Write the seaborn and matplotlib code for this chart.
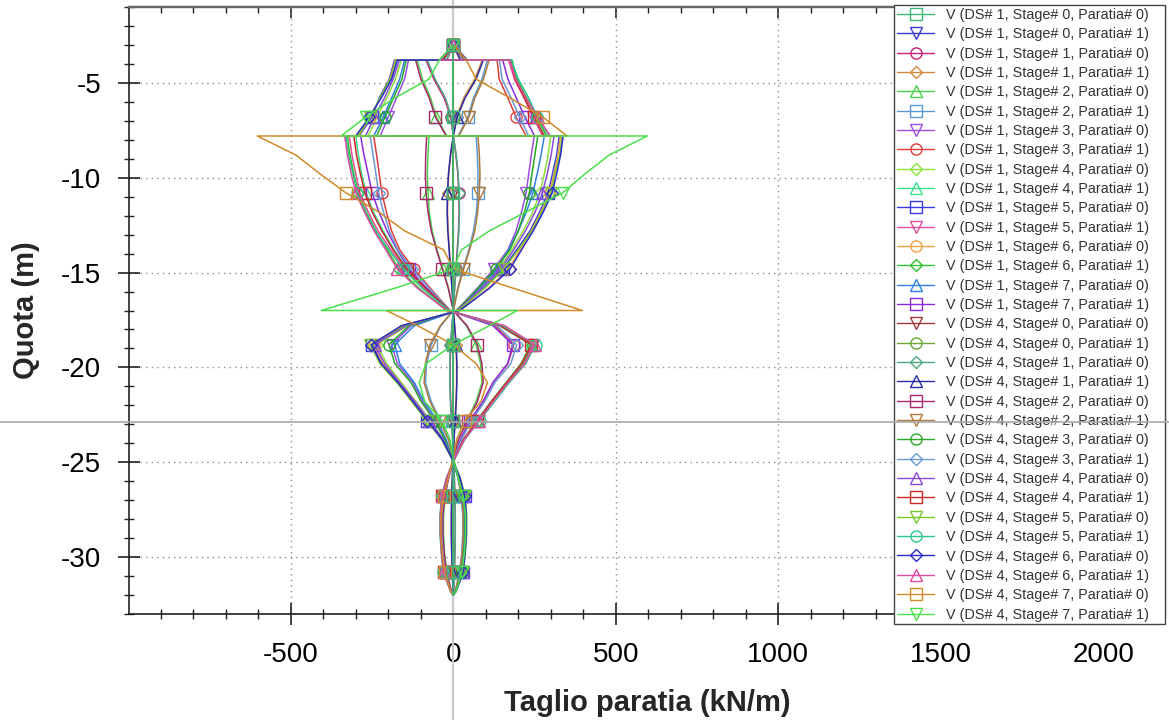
import numpy as np
import pandas as pd
import matplotlib
matplotlib.use("Agg")
import matplotlib.pyplot as plt
from matplotlib.lines import Line2D
from matplotlib.ticker import MultipleLocator
import seaborn as sns

# ---------------- data ----------------
# depth nodes along the wall (m); repeated depths are the jumps at the supports
DEPTH = [-3.0, -3.8, -3.8, -4.8, -5.8, -6.8, -7.8, -7.8, -8.8, -9.8,
         -10.8, -11.8, -12.8, -13.8, -14.8, -15.8, -17.0, -17.0, -17.8, -18.8,
         -19.8, -20.8, -21.8, -22.8, -23.8, -24.8, -25.8, -26.8, -27.8, -28.8,
         -29.8, -30.8, -31.8, -32.0]
MARKER_DEPTHS = [-3.0, -6.8, -10.8, -14.8, -18.8, -22.8, -26.8, -30.8]

# shear V (kN/m) at each depth node
V_DS1_S0_P0 = [0, 0, 0, 0, 0, 0, 0, 0, 0, 0, 0, 0, 0, 0, 0, 0, 0, 0, 0, 0,
               0, 0, 0, 0, 0, 0, 0, 0, 0, 0, 0, 0, 0, 0]
V_DS1_S0_P1 = [0, 0, 0, 0, 0, 0, 0, 0, 0, 0, 0, 0, 0, 0, 0, 0, 0, 0, 0, 0,
               0, 0, 0, 0, 0, 0, 0, 0, 0, 0, 0, 0, 0, 0]
V_DS1_S1_P0 = [0, -20, -84, -60, -28, -8, 0, 0, 8, 14,
               17, 18, 16, 12, 8, 4, 0, 0, -4, -8,
               -10, -10, -8, -5, -2, 0, 3, 5, 6, 6,
               5, 3, 1, 0]
V_DS1_S1_P1 = [0, 20, 89, 66, 32, 10, 0, 0, -8, -14,
               -17, -18, -16, -12, -8, -4, 0, 0, 4, 8,
               10, 10, 8, 5, 2, 0, -3, -5, -6, -6,
               -5, -3, -1, 0]
V_DS1_S2_P0 = [0, -30, -111, -95, -70, -52, -20, -75, -78, -80,
               -78, -74, -65, -50, -32, -15, 0, 0, 40, 70,
               84, 88, 70, 42, 15, 0, -15, -25, -30, -30,
               -27, -20, -6, 0]
V_DS1_S2_P1 = [0, 30, 105, 88, 62, 45, 15, 70, 74, 76,
               75, 71, 62, 48, 30, 14, 0, 0, -38, -68,
               -82, -86, -68, -40, -14, 0, 14, 24, 29, 29,
               26, 19, 6, 0]
V_DS1_S3_P0 = [0, 40, -138, -150, -175, -200, -225, 249, 240, 232,
               224, 210, 193, 168, 125, 75, 10, 10, -130, -190,
               -172, -125, -95, -55, -25, -3, 15, 30, 36, 36,
               32, 25, 8, 0]
V_DS1_S3_P1 = [0, -40, 135, 141, 168, 193, 224, -245, -236, -228,
               -220, -206, -190, -165, -122, -72, -10, -10, 128, 186,
               168, 122, 92, 53, 24, 3, -14, -29, -35, -35,
               -31, -24, -8, 0]
V_DS1_S4_P0 = [0, 35, -160, -178, -205, -235, -262, 300, 292, 280,
               266, 245, 215, 180, 140, 85, 12, 12, -140, -235,
               -205, -160, -115, -72, -30, -4, 18, 33, 38, 38,
               34, 28, 8, 0]
V_DS1_S4_P1 = [0, -35, 181, 195, 225, 255, 286, -300, -292, -282,
               -268, -246, -216, -182, -142, -86, -12, -12, 142, 238,
               208, 162, 116, 73, 31, 4, -18, -33, -38, -38,
               -34, -28, -8, 0]
V_DS1_S5_P0 = [0, 40, -181, -197, -228, -250, -290, 326, 318, 305,
               292, 266, 236, 195, 152, 95, 15, 15, -150, -250,
               -220, -170, -125, -80, -35, -5, 20, 35, 40, 40,
               36, 30, 8, 0]
V_DS1_S5_P1 = [0, -40, 170, 188, 218, 245, 275, -320, -312, -300,
               -288, -262, -232, -192, -150, -93, -15, -15, 148, 246,
               216, 167, 123, 79, 34, 5, -20, -35, -40, -40,
               -36, -30, -8, 0]
V_DS1_S6_P0 = [0, 42, -178, -195, -225, -255, -292, 330, 322, 310,
               296, 270, 240, 205, 170, 110, 20, 20, -155, -245,
               -215, -165, -120, -78, -33, -4, 19, 34, 39, 39,
               35, 29, 8, 0]
V_DS1_S6_P1 = [0, -42, 180, 196, 226, 256, 288, -326, -318, -306,
               -293, -268, -238, -203, -168, -108, -20, -20, 153, 243,
               213, 163, 119, 77, 33, 4, -19, -34, -39, -39,
               -35, -29, -8, 0]
V_DS1_S7_P0 = [0, 38, -150, -165, -190, -215, -245, 280, 270, 258,
               245, 225, 200, 170, 135, 82, 12, 12, -120, -180,
               -165, -120, -90, -50, -22, -3, 14, 28, 34, 34,
               30, 24, 7, 0]
V_DS1_S7_P1 = [0, -38, 152, 168, 194, 220, 250, -285, -275, -262,
               -250, -229, -204, -173, -137, -83, -12, -12, 122, 183,
               167, 122, 91, 51, 22, 3, -14, -28, -34, -34,
               -30, -24, -7, 0]
V_DS4_S0_P0 = [0, 0, 0, 0, 0, 0, 0, 0, 0, 0, 0, 0, 0, 0, 0, 0, 0, 0, 0, 0,
               0, 0, 0, 0, 0, 0, 0, 0, 0, 0, 0, 0, 0, 0]
V_DS4_S0_P1 = [0, 0, 0, 0, 0, 0, 0, 0, 0, 0, 0, 0, 0, 0, 0, 0, 0, 0, 0, 0,
               0, 0, 0, 0, 0, 0, 0, 0, 0, 0, 0, 0, 0, 0]
V_DS4_S1_P0 = [0, -22, -80, -56, -24, -6, 0, 0, 9, 15,
               18, 19, 17, 13, 9, 4, 0, 0, -4, -9,
               -11, -11, -9, -6, -2, 0, 3, 5, 6, 6,
               5, 3, 1, 0]
V_DS4_S1_P1 = [0, 22, 92, 70, 36, 12, 0, 0, -9, -15,
               -18, -19, -17, -13, -9, -4, 0, 0, 4, 9,
               11, 11, 9, 6, 2, 0, -3, -5, -6, -6,
               -5, -3, -1, 0]
V_DS4_S2_P0 = [0, -32, -116, -100, -74, -55, -22, -82, -85, -86,
               -84, -78, -68, -52, -34, -16, 0, 0, 42, 74,
               88, 92, 74, 44, 16, 0, -16, -26, -32, -32,
               -28, -21, -6, 0]
V_DS4_S2_P1 = [0, 32, 110, 93, 66, 48, 17, 76, 80, 82,
               80, 75, 66, 50, 32, 15, 0, 0, -40, -72,
               -86, -90, -72, -42, -15, 0, 15, 25, 31, 31,
               27, 20, 6, 0]
V_DS4_S3_P0 = [0, 42, -145, -158, -184, -210, -236, 260, 251, 242,
               234, 219, 200, 174, 130, 78, 10, 10, -136, -198,
               -180, -130, -99, -58, -26, -3, 16, 31, 37, 37,
               33, 26, 8, 0]
V_DS4_S3_P1 = [0, -42, 142, 150, 178, 204, 232, -256, -247, -238,
               -230, -215, -197, -171, -127, -76, -10, -10, 134, 195,
               177, 128, 97, 56, 25, 3, -15, -30, -36, -36,
               -32, -25, -8, 0]
V_DS4_S4_P0 = [0, 37, -166, -185, -212, -243, -270, 310, 301, 289,
               274, 252, 222, 186, 145, 88, 12, 12, -145, -242,
               -211, -165, -118, -74, -31, -4, 19, 34, 39, 39,
               35, 29, 8, 0]
V_DS4_S4_P1 = [0, -37, 176, 190, 219, 249, 280, -306, -298, -286,
               -272, -250, -220, -185, -144, -87, -12, -12, 144, 240,
               210, 164, 117, 74, 31, 4, -19, -34, -39, -39,
               -35, -29, -8, 0]
V_DS4_S5_P0 = [0, 41, -176, -194, -226, -256, -294, 335, 327, 313,
               300, 273, 242, 200, 156, 98, 15, 15, -154, -256,
               -226, -174, -128, -82, -36, -5, 21, 36, 41, 41,
               37, 31, 8, 0]
V_DS4_S5_P1 = [0, -41, 178, 200, 232, 258, 296, -330, -322, -309,
               -296, -270, -240, -198, -155, -97, -15, -15, 152, 253,
               223, 172, 127, 81, 35, 5, -21, -36, -41, -41,
               -37, -31, -8, 0]
V_DS4_S6_P0 = [0, 43, -172, -190, -222, -258, -300, 338, 330, 318,
               304, 277, 246, 210, 175, 113, 20, 20, -160, -252,
               -222, -170, -124, -80, -34, -4, 20, 35, 40, 40,
               36, 30, 8, 0]
V_DS4_S6_P1 = [0, -43, 174, 192, 224, 260, 298, -334, -326, -314,
               -300, -274, -244, -208, -173, -112, -20, -20, 158, 250,
               220, 168, 123, 79, 34, 4, -20, -35, -40, -40,
               -36, -30, -8, 0]
V_DS4_S7_P0 = [0, 40, 40, 70, 175, 275, 350, -603, -485, -410,
               -330, -230, -150, -30, 0, 180, 397, -206, -110, 0,
               70, 105, 85, 35, 10, 0, -15, -30, -38, -38,
               -34, -26, -8, 0]
V_DS4_S7_P1 = [0, -43, -43, -75, -180, -270, -345, 597, 480, 405,
               336, 224, 111, 25, 0, -175, -406, 197, 111, 0,
               -84, -105, -88, -35, -10, 0, 15, 30, 38, 38,
               34, 26, 8, 0]

SERIES = [V_DS1_S0_P0, V_DS1_S0_P1, V_DS1_S1_P0, V_DS1_S1_P1,
          V_DS1_S2_P0, V_DS1_S2_P1, V_DS1_S3_P0, V_DS1_S3_P1,
          V_DS1_S4_P0, V_DS1_S4_P1, V_DS1_S5_P0, V_DS1_S5_P1,
          V_DS1_S6_P0, V_DS1_S6_P1, V_DS1_S7_P0, V_DS1_S7_P1,
          V_DS4_S0_P0, V_DS4_S0_P1, V_DS4_S1_P0, V_DS4_S1_P1,
          V_DS4_S2_P0, V_DS4_S2_P1, V_DS4_S3_P0, V_DS4_S3_P1,
          V_DS4_S4_P0, V_DS4_S4_P1, V_DS4_S5_P0, V_DS4_S5_P1,
          V_DS4_S6_P0, V_DS4_S6_P1, V_DS4_S7_P0, V_DS4_S7_P1]

LABELS = [f"V (DS# {ds}, Stage# {st}, Paratia# {p})"
          for ds in (1, 4) for st in range(8) for p in (0, 1)]

COLORS = ["#3cb878", "#3b3bd0", "#c8207a", "#d2883a", "#4cd04c", "#5b9bd5",
          "#9b4de0", "#e03c3c", "#8ee03a", "#3ce08e", "#3a3ae0", "#e0509b",
          "#f0a040", "#30c030", "#3080e0", "#8a2be2", "#a0383c", "#6aa832",
          "#4ca882", "#2a2aa8", "#a8286a", "#b07838", "#28a828", "#6a9ad0",
          "#8a4ad8", "#c82828", "#7ac82a", "#2ac88a", "#2a2ac8", "#e04aa0",
          "#d08a2a", "#4ae04a"]
MARKER_CYCLE = ["s", "v", "o", "D", "^"]

CURSOR_Z = -22.9   # horizontal cursor line
CURSOR_V = 0       # vertical cursor line

for s in SERIES:
    assert len(s) == len(DEPTH)

# ---------------- plot ----------------
sns.set_theme(style="white")
plt.rcParams["font.family"] = ["Liberation Sans", "DejaVu Sans"]
plt.rcParams["axes.unicode_minus"] = False

fig = plt.figure(figsize=(11.69, 7.2), dpi=100)
ax_l, ax_r, ax_t, ax_b = 129, 1165, 7, 614
ax = fig.add_axes([ax_l / 1169, 1 - ax_b / 720, (ax_r - ax_l) / 1169, (ax_b - ax_t) / 720])

mark_idx = [DEPTH.index(d) for d in MARKER_DEPTHS]
msizes = {"s": 8, "v": 8.5, "o": 8, "D": 6.5, "^": 8.5}

handles = []
order = list(range(1, len(SERIES))) + [0]
for i in order:
    vals = SERIES[i]
    col = COLORS[i]
    mk = MARKER_CYCLE[i % 5]
    df = pd.DataFrame({"V": vals, "z": DEPTH})
    sns.lineplot(data=df, x="V", y="z", sort=False, estimator=None, ax=ax,
                 color=col, linewidth=1.1, marker=mk, markevery=mark_idx,
                 markersize=msizes[mk], markerfacecolor="none",
                 markeredgecolor=col, markeredgewidth=1.0, legend=False,
                 zorder=3 if i == 0 else 2)

for i in range(len(SERIES)):
    mk = MARKER_CYCLE[i % 5]
    handles.append(Line2D([], [], color=COLORS[i], lw=1.0, marker=mk,
                          markersize=msizes[mk], markerfacecolor="none",
                          markeredgecolor=COLORS[i], markeredgewidth=1.0))

ax.set_xlim(-998, 2190)
ax.set_ylim(-33, -1)

ax.xaxis.set_major_locator(MultipleLocator(500))
ax.xaxis.set_minor_locator(MultipleLocator(100))
ax.yaxis.set_major_locator(MultipleLocator(5))
ax.yaxis.set_minor_locator(MultipleLocator(1))

ax.grid(True, which="major", linestyle=(0, (1, 3)), color="#8c8c8c", linewidth=1.0)
ax.set_axisbelow(True)

ax.tick_params(which="major", direction="inout", length=16, width=1.2,
               color="#222222", labelsize=20, labelcolor="black")
ax.tick_params(which="minor", direction="inout", length=7.5, width=1.0, color="#222222")
ax.tick_params(axis="x", which="major", pad=12)
ax.tick_params(axis="y", which="major", pad=12)
ax.tick_params(which="both", bottom=True, left=True, top=False, right=False)

for side in ("left", "bottom"):
    ax.spines[side].set_color("#222222")
    ax.spines[side].set_linewidth(1.2)
for side in ("top", "right"):
    ax.spines[side].set_color("#666666")
    ax.spines[side].set_linewidth(1.6)

sec = ax.secondary_xaxis("top")
sec.xaxis.set_major_locator(MultipleLocator(500))
sec.xaxis.set_minor_locator(MultipleLocator(100))
sec.tick_params(which="major", direction="in", length=8, width=1.2, color="#222222",
                labeltop=False)
sec.tick_params(which="minor", direction="in", length=4.5, width=1.0, color="#222222")
sec.spines["top"].set_color("#666666")
sec.spines["top"].set_linewidth(1.6)

ax.set_xlabel("Taglio paratia (kN/m)", fontsize=21, fontweight="bold")
ax.set_ylabel("Quota (m)", fontsize=21, fontweight="bold")
ax.xaxis.set_label_coords(0.5, -0.124)
ax.yaxis.set_label_coords(-0.086, 0.5)

h = ax_b - ax_t
w = ax_r - ax_l
ax.axvline(CURSOR_V, ymin=-(720 - ax_b) / h, ymax=1 + ax_t / h, clip_on=False,
           color="#c8c8c8", linewidth=1.5, zorder=1.5)
ax.axhline(CURSOR_Z, xmin=-ax_l / w, xmax=(1169 - ax_l) / w, clip_on=False,
           color="#a8a8a8", linewidth=1.2, zorder=6)

leg_l, leg_r, leg_t, leg_b = 894, 1165, 5, 625
leg = ax.legend(handles, LABELS, loc="upper left", mode="expand",
                bbox_to_anchor=(leg_l / 1169, 1 - leg_b / 720,
                                (leg_r - leg_l) / 1169, (leg_b - leg_t) / 720),
                bbox_transform=fig.transFigure,
                fontsize=10.4, frameon=True, fancybox=False, framealpha=1,
                edgecolor="#444444", borderpad=0.2, labelspacing=0.37,
                handlelength=2.6, handletextpad=0.8, borderaxespad=0)
leg.get_frame().set_linewidth(1.0)
leg.set_zorder(5)
for t in leg.get_texts():
    t.set_color("#333333")

fig.savefig("out.png", dpi=100)
